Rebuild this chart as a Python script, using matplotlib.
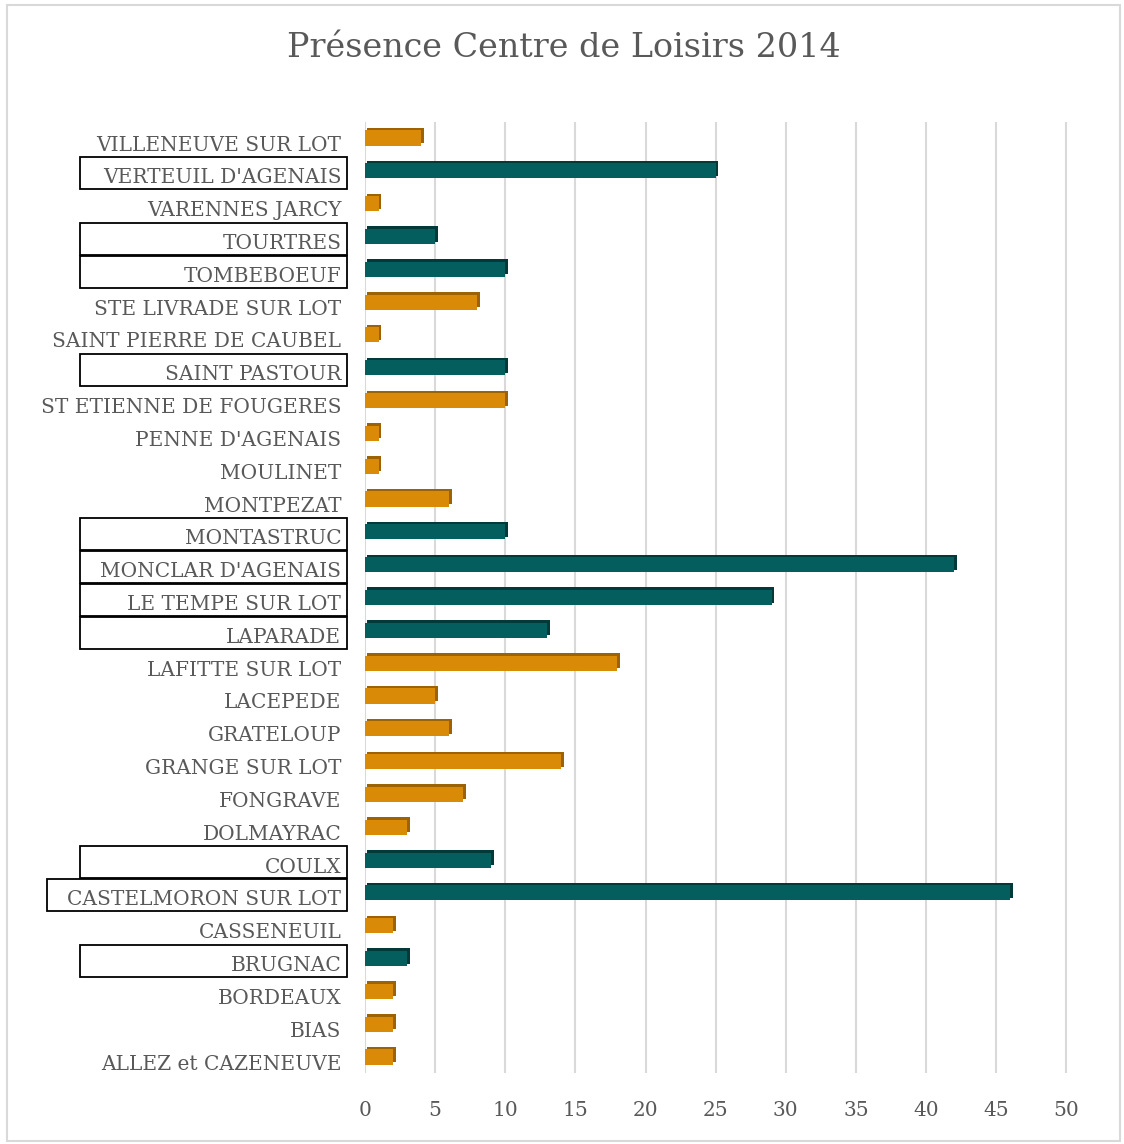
import matplotlib.pyplot as plt
import matplotlib.transforms as mtransforms
from matplotlib.patches import Rectangle

# communes, top to bottom as in the chart
communes = ["VILLENEUVE SUR LOT", "VERTEUIL D'AGENAIS", "VARENNES JARCY", "TOURTRES",
            "TOMBEBOEUF", "STE LIVRADE SUR LOT", "SAINT PIERRE DE CAUBEL", "SAINT PASTOUR",
            "ST ETIENNE DE FOUGERES", "PENNE D'AGENAIS", "MOULINET", "MONTPEZAT",
            "MONTASTRUC", "MONCLAR D'AGENAIS", "LE TEMPE SUR LOT", "LAPARADE",
            "LAFITTE SUR LOT", "LACEPEDE", "GRATELOUP", "GRANGE SUR LOT", "FONGRAVE",
            "DOLMAYRAC", "COULX", "CASTELMORON SUR LOT", "CASSENEUIL", "BRUGNAC",
            "BORDEAUX", "BIAS", "ALLEZ et CAZENEUVE"]
presence = [4, 25, 1, 5, 10, 8, 1, 10, 10, 1, 1, 6, 10, 42, 29, 13, 18, 5, 6, 14, 7,
            3, 9, 46, 2, 3, 2, 2, 2]
# communes highlighted (teal bar + boxed label)
highlight = ["VERTEUIL D'AGENAIS", "TOURTRES", "TOMBEBOEUF", "SAINT PASTOUR",
             "MONTASTRUC", "MONCLAR D'AGENAIS", "LE TEMPE SUR LOT", "LAPARADE",
             "COULX", "CASTELMORON SUR LOT", "BRUGNAC"]
xticks = list(range(0, 55, 5))

orange, orange_dark = "#D98A06", "#9C6204"
teal, teal_dark = "#045E5E", "#023A3A"
gray = "#595959"

plt.rcParams['font.family'] = ['DejaVu Serif']

fig = plt.figure(figsize=(11.24, 11.44), dpi=100)
ax = fig.add_axes([0.3247, 0.0617, 0.6265, 0.832])

ypos = list(range(len(communes)))
cols = [teal if c in highlight else orange for c in communes]
dark = [teal_dark if c in highlight else orange_dark for c in communes]

# fake 3D depth: darker bar shifted up-right behind the front bar
shift = mtransforms.offset_copy(ax.transData, fig=fig, x=2.5, y=2.5, units='dots')
ax.barh(ypos, presence, height=0.46, left=0, color=dark, transform=shift, zorder=2)
ax.barh(ypos, presence, height=0.46, color=cols, zorder=3)

ax.set_xlim(0, 50.2)
ax.set_ylim(len(communes) - 0.5, -0.5)
ax.set_xticks(xticks)
ax.set_yticks(ypos)
ax.set_yticklabels(communes)
ax.tick_params(axis='y', length=0, pad=17, labelsize=14.5, labelcolor=gray)
ax.tick_params(axis='x', length=0, pad=20, labelsize=14.5, labelcolor=gray)
down = mtransforms.ScaledTranslation(0, -5 / 100, fig.dpi_scale_trans)
for lab in ax.get_yticklabels():
    lab.set_transform(lab.get_transform() + down)
ax.grid(axis='x', color="#D9D9D9", linewidth=1.5, zorder=0)
ax.set_axisbelow(True)
for s in ax.spines.values():
    s.set_visible(False)

# boxes around highlighted labels
blend = mtransforms.blended_transform_factory(ax.transAxes, ax.transData)
for i, c in enumerate(communes):
    if c in highlight:
        x0 = -0.452 if c == "CASTELMORON SUR LOT" else -0.405
        x1 = -0.026
        ax.add_patch(Rectangle((x0, i - 0.42), x1 - x0, 0.98, transform=blend,
                               fill=False, edgecolor="black", linewidth=1.3,
                               clip_on=False, zorder=5))

fig.text(0.502, 0.958, "Présence Centre de Loisirs 2014", ha='center', va='center',
         fontsize=24, color=gray)

# chart border
fig.patches.append(Rectangle((0.006, 0.003), 0.99, 0.993, transform=fig.transFigure,
                             fill=False, edgecolor="#D9D9D9", linewidth=1.5))

fig.savefig("out.png", dpi=100)
